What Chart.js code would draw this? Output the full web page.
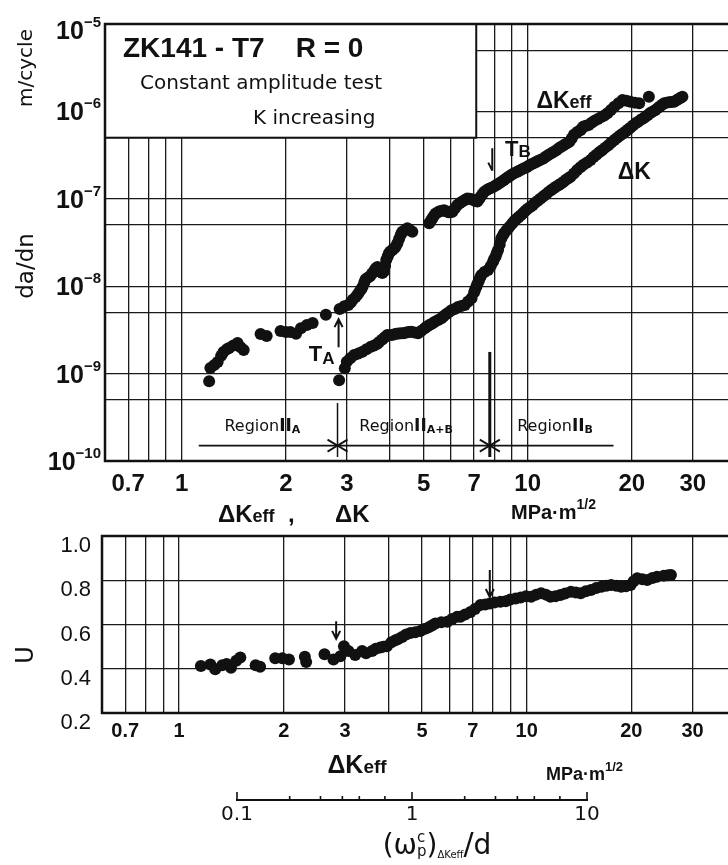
<!DOCTYPE html>
<html>
<head>
<meta charset="utf-8">
<script src="https://cdn.jsdelivr.net/npm/chart.js@4.4.1/dist/chart.umd.min.js"></script>
<style>
  html, body { margin: 0; padding: 0; background: #fff; overflow: hidden; }
  #page { position: relative; width: 728px; height: 865px; overflow: hidden; background: #fff; }
  .panel { position: absolute; left: 0; }
</style>
</head>
<body>
<div id="page">
  <div class="panel" style="top:0;width:760px;height:540px"><canvas id="chart-rate"></canvas></div>
  <div class="panel" style="top:510px;width:760px;height:270px"><canvas id="chart-u"></canvas></div>
  <div class="panel" style="top:775px;width:728px;height:90px"><canvas id="chart-wp"></canvas></div>
</div>
<script>
// da/dn against ΔKeff (upper branch); scatter, so order of readings does not matter
const keffX = [1.20, 1.21, 1.24, 1.27, 1.30, 1.32, 1.35, 1.37, 1.41, 1.45, 1.48, 1.51, 1.69, 1.76, 1.93, 2.00,
  2.06, 2.14, 2.21, 2.30, 2.39, 2.61, 2.86, 2.95, 3.03, 3.12, 3.18, 3.26, 3.33, 3.40, 3.50, 3.60, 3.68, 3.76,
  3.84, 3.90, 3.97, 4.06, 4.15, 4.25, 4.34, 4.49, 4.64, 5.19, 5.30, 5.42, 5.57, 5.73, 5.90, 6.06, 6.26, 6.47,
  6.69, 6.92, 7.15, 7.30, 7.48, 7.73, 7.99, 8.25, 8.54, 8.83, 9.13, 9.45, 9.76, 10.1, 10.4, 10.7, 11.1, 11.5,
  11.9, 12.3, 12.7, 13.2, 13.6, 14.2, 14.5, 15.0, 15.6, 16.3, 17.0, 17.8, 18.8, 19.8, 21.0, 22.4,
  3.08, 3.22, 3.30, 3.37, 3.45, 3.55, 3.64, 3.72, 3.80, 3.87, 3.94, 4.01, 4.11, 4.20, 4.30, 4.42, 4.56,
  5.25, 5.36, 5.50, 5.65, 5.81, 5.98, 6.16, 6.36, 6.58, 6.80, 7.03, 7.22, 7.39, 7.60, 7.86, 8.12, 8.40, 8.68,
  8.98, 9.30, 9.60, 9.93, 10.25, 10.55, 10.9, 11.3, 11.7, 12.1, 12.5, 12.95, 13.4, 13.9, 14.35, 14.75, 15.3,
  15.95, 16.65, 17.4, 18.3, 19.3, 20.4]
const keffRate = [8.2e-10, 1.16e-9, 1.25e-9, 1.36e-9, 1.6e-9, 1.77e-9, 1.9e-9, 1.96e-9, 2.1e-9, 2.24e-9, 2.0e-9,
  1.86e-9, 2.84e-9, 2.7e-9, 3.07e-9, 3.0e-9, 3.0e-9, 2.85e-9, 3.3e-9, 3.6e-9, 3.8e-9, 4.7e-9, 5.5e-9, 5.9e-9,
  6.1e-9, 7.0e-9, 7.5e-9, 8.6e-9, 9.8e-9, 1.2e-8, 1.3e-8, 1.5e-8, 1.66e-8, 1.45e-8, 1.47e-8, 2.0e-8, 2.38e-8,
  2.6e-8, 2.83e-8, 3.5e-8, 4.2e-8, 4.6e-8, 4.2e-8, 5.25e-8, 6.0e-8, 6.8e-8, 7.2e-8, 7.4e-8, 7.0e-8, 7.1e-8,
  8.5e-8, 9.3e-8, 1.01e-7, 9.8e-8, 9.3e-8, 1.05e-7, 1.2e-7, 1.3e-7, 1.38e-7, 1.5e-7, 1.64e-7, 1.8e-7, 1.96e-7,
  2.1e-7, 2.23e-7, 2.4e-7, 2.55e-7, 2.7e-7, 2.9e-7, 3.2e-7, 3.46e-7, 3.8e-7, 4.1e-7, 4.5e-7, 5.4e-7, 6.1e-7,
  6.7e-7, 7.0e-7, 7.8e-7, 8.6e-7, 9.5e-7, 1.13e-6, 1.35e-6, 1.29e-6, 1.24e-6, 1.47e-6,
  6.5e-9, 8.0e-9, 9.2e-9, 1.1e-8, 1.25e-8, 1.4e-8, 1.6e-8, 1.55e-8, 1.42e-8, 1.7e-8, 2.2e-8, 2.5e-8, 2.7e-8,
  3.1e-8, 3.9e-8, 4.4e-8, 4.4e-8,
  5.6e-8, 6.4e-8, 7.0e-8, 7.3e-8, 7.2e-8, 7.0e-8, 7.8e-8, 8.9e-8, 9.7e-8, 1.0e-7, 9.5e-8, 9.8e-8, 1.12e-7,
  1.25e-7, 1.34e-7, 1.44e-7, 1.57e-7, 1.72e-7, 1.88e-7, 2.03e-7, 2.16e-7, 2.3e-7, 2.48e-7, 2.62e-7, 2.8e-7,
  3.05e-7, 3.33e-7, 3.6e-7, 3.95e-7, 4.3e-7, 4.9e-7, 5.8e-7, 6.4e-7, 6.85e-7, 7.4e-7, 8.2e-7, 9.0e-7, 1.04e-6,
  1.24e-6, 1.32e-6, 1.26e-6]

// da/dn against ΔK
const dkX = [2.85, 2.96, 3.00, 3.07, 3.15, 3.24, 3.33, 3.42, 3.52, 3.60, 3.68, 3.80, 3.93, 4.04, 4.17, 4.31,
  4.46, 4.61, 4.82, 5.04, 5.20, 5.39, 5.63, 5.82, 6.02, 6.29, 6.58, 6.88, 7.00, 7.11, 7.22, 7.35, 7.68, 7.94,
  8.08, 8.21, 8.38, 8.54, 8.78, 9.03, 9.30, 9.55, 9.85, 10.2, 10.5, 10.9, 11.3, 11.7, 12.1, 12.5, 12.9, 13.3,
  13.9, 14.5, 15.2, 15.8, 16.4, 17.1, 17.8, 18.5, 19.2, 19.8, 20.5, 21.2, 21.9, 22.6, 23.4, 24.1, 24.8, 25.6,
  26.5, 27.2, 28.0,
  3.72, 3.86, 4.10, 4.24, 4.38, 4.53, 4.71, 4.93, 5.12, 5.30, 5.51, 5.72, 5.92, 6.15, 6.43, 6.73, 7.05, 7.16,
  7.28, 7.50, 7.82, 8.00, 8.14, 8.30, 8.46, 8.66, 8.90, 9.16, 9.42, 9.70, 10.0, 10.35, 10.7, 11.1, 11.5, 11.9,
  12.3, 12.7, 13.1, 13.6, 14.2, 14.85, 15.5, 16.1, 16.75, 17.45, 18.15, 18.85, 19.5, 20.15, 20.85, 21.55,
  22.25, 23.0, 23.75, 24.45, 25.2, 26.0, 26.85, 27.6]
const dkRate = [8.4e-10, 1.15e-9, 1.37e-9, 1.5e-9, 1.63e-9, 1.7e-9, 1.78e-9, 1.9e-9, 2.03e-9, 2.1e-9, 2.2e-9,
  2.45e-9, 2.77e-9, 2.77e-9, 2.85e-9, 2.89e-9, 2.95e-9, 3.02e-9, 2.89e-9, 3.3e-9, 3.6e-9, 3.93e-9, 4.3e-9,
  4.8e-9, 5.3e-9, 5.8e-9, 6.1e-9, 7.3e-9, 8.5e-9, 9.9e-9, 1.15e-8, 1.34e-8, 1.53e-8, 1.9e-8, 2.2e-8, 2.6e-8,
  3.5e-8, 4.0e-8, 4.6e-8, 5.25e-8, 5.9e-8, 6.5e-8, 7.3e-8, 8.1e-8, 9.0e-8, 1.01e-7, 1.13e-7, 1.26e-7, 1.38e-7,
  1.5e-7, 1.65e-7, 1.79e-7, 2.14e-7, 2.45e-7, 2.78e-7, 3.2e-7, 3.6e-7, 4.1e-7, 4.7e-7, 5.3e-7, 5.9e-7, 6.5e-7,
  7.3e-7, 8.0e-7, 8.7e-7, 9.6e-7, 1.04e-6, 1.14e-6, 1.24e-6, 1.27e-6, 1.29e-6, 1.38e-6, 1.47e-6,
  2.3e-9, 2.6e-9, 2.8e-9, 2.88e-9, 2.9e-9, 3.0e-9, 2.95e-9, 3.1e-9, 3.45e-9, 3.75e-9, 4.1e-9, 4.55e-9, 5.05e-9,
  5.5e-9, 5.95e-9, 6.7e-9, 9.2e-9, 1.07e-8, 1.25e-8, 1.45e-8, 1.7e-8, 2.05e-8, 2.4e-8, 3.0e-8, 3.75e-8, 4.3e-8,
  4.9e-8, 5.6e-8, 6.2e-8, 6.9e-8, 7.7e-8, 8.5e-8, 9.5e-8, 1.07e-7, 1.2e-7, 1.32e-7, 1.44e-7, 1.57e-7, 1.72e-7,
  1.95e-7, 2.3e-7, 2.6e-7, 3.0e-7, 3.4e-7, 3.85e-7, 4.4e-7, 5.0e-7, 5.6e-7, 6.2e-7, 6.9e-7, 7.6e-7, 8.3e-7,
  9.1e-7, 1.0e-6, 1.09e-6, 1.19e-6, 1.26e-6, 1.28e-6, 1.33e-6, 1.42e-6]

// closure ratio U against ΔKeff
const uX = [1.155, 1.23, 1.27, 1.33, 1.37, 1.41, 1.46, 1.50, 1.66, 1.71, 1.89, 1.98, 2.07, 2.30, 2.32, 2.62,
  2.78, 2.91, 2.98, 3.07, 3.21, 3.36, 3.59, 3.79, 3.96, 4.19, 4.38, 4.63, 4.94, 5.22, 5.46, 5.91, 6.31, 6.45,
  6.89, 7.36, 7.84, 8.4, 8.97, 9.61, 10.3, 11.0, 11.7, 12.5, 13.4, 14.3, 15.3, 16.4, 17.5, 18.7, 19.9, 20.8,
  22.2, 23.7, 26.0,
  3.45, 3.68, 3.87, 4.08, 4.28, 4.50, 4.78, 5.08, 5.34, 5.68, 6.10, 6.65, 7.10, 7.60, 8.10, 8.70, 9.30, 9.95,
  10.65, 11.35, 12.1, 12.9, 13.85, 14.8, 15.85, 16.95, 18.1, 19.3, 20.3, 21.5, 23.0, 24.8, 25.5]
const uVal = [0.412, 0.419, 0.398, 0.416, 0.421, 0.404, 0.436, 0.451, 0.416, 0.409, 0.447, 0.447, 0.442, 0.454,
  0.431, 0.466, 0.442, 0.457, 0.502, 0.480, 0.462, 0.480, 0.480, 0.496, 0.502, 0.529, 0.544, 0.562, 0.571,
  0.587, 0.605, 0.612, 0.635, 0.635, 0.657, 0.688, 0.695, 0.703, 0.713, 0.722, 0.725, 0.741, 0.725, 0.733,
  0.748, 0.741, 0.756, 0.771, 0.778, 0.771, 0.778, 0.809, 0.801, 0.816, 0.824,
  0.470, 0.490, 0.500, 0.520, 0.535, 0.555, 0.565, 0.580, 0.595, 0.610, 0.625, 0.645, 0.670, 0.690, 0.700,
  0.705, 0.718, 0.728, 0.735, 0.735, 0.728, 0.740, 0.745, 0.750, 0.765, 0.775, 0.775, 0.773, 0.795, 0.805,
  0.810, 0.820, 0.823]

// axes
const kTicks = [0.7, 0.8, 0.9, 1, 2, 3, 4, 5, 6, 7, 8, 9, 10, 20, 30]
const kLabels = [0.7, 1, 2, 3, 5, 7, 10, 20, 30]
const rateTicks = [1e-10, 5e-10, 1e-9, 5e-9, 1e-8, 5e-8, 1e-7, 5e-7, 1e-6, 5e-6, 1e-5]
const rateLabels = [1e-10, 1e-9, 1e-8, 1e-7, 1e-6, 1e-5]
const uTicks = [0.2, 0.4, 0.6, 0.8, 1.0]
const wpTicks = [0.1, 0.2, 0.3, 0.4, 0.5, 0.7, 1, 2, 3, 4, 5, 7, 10]
const wpLabels = [0.1, 1, 10]

// transition points T_A, T_B (ΔK) and the region bar
const regionBounds = [2.82, 7.77]
const regionSpan = [1.12, 17.7]

const FF = '"Liberation Sans", Arial, sans-serif'
const FD = '"DejaVu Sans", sans-serif'
const INK = '#111'

// draws a run of text pieces (sub/superscripts) on one baseline
function txt(ctx, x, y, parts, align = 'left') {
  const f = p => `${p.b ? 'bold ' : ''}${p.s}px ${p.f || FF}`
  let w = 0
  for (const p of parts) { ctx.font = f(p); if (!p.stay) w += ctx.measureText(p.t).width }
  let cx = align === 'center' ? x - w / 2 : align === 'right' ? x - w : x
  ctx.textAlign = 'left'; ctx.textBaseline = 'alphabetic'; ctx.fillStyle = INK
  for (const p of parts) {
    ctx.font = f(p)
    ctx.fillText(p.t, cx, y + (p.dy || 0))
    if (!p.stay) cx += ctx.measureText(p.t).width
  }
}

function vtxt(ctx, x, y, text, size) {
  ctx.save()
  ctx.translate(x, y); ctx.rotate(-Math.PI / 2)
  ctx.font = `${size}px ${FD}`; ctx.fillStyle = INK
  ctx.textAlign = 'center'; ctx.textBaseline = 'middle'
  ctx.fillText(text, 0, 0)
  ctx.restore()
}

function arrow(ctx, x, y0, y1, half) {
  const d = y1 > y0 ? -1 : 1
  ctx.beginPath()
  ctx.moveTo(x, y0); ctx.lineTo(x, y1)
  ctx.moveTo(x - 4, y1 + d * 8); ctx.lineTo(x, y1)
  if (!half) ctx.lineTo(x + 4, y1 + d * 8)
  ctx.stroke()
}

const grid = { color: '#1a1a1a', lineWidth: 1.3, drawTicks: false }
const pts = (xs, ys) => xs.map((x, i) => ({ x, y: ys[i] }))
const dots = { backgroundColor: INK, borderColor: INK, pointRadius: 6, pointBorderWidth: 0, showLine: false }
const region = sub => [{ t: 'Region', s: 16, f: FD }, { t: 'II', s: 17, b: 1, f: FD }, { t: sub, s: 11, b: 1, f: FD, dy: 2 }]

const rateDecor = {
  id: 'rateDecor',
  beforeDatasetsDraw(chart) {
    const { ctx, chartArea: a, scales: { x, y } } = chart
    ctx.save()
    // caption box sits over the grid
    const bx = x.getPixelForValue(7.1), by = y.getPixelForValue(5e-7)
    ctx.fillStyle = '#fff'; ctx.fillRect(a.left, a.top, bx - a.left, by - a.top)
    ctx.strokeStyle = INK; ctx.lineWidth = 2
    ctx.strokeRect(a.left, a.top, bx - a.left, by - a.top)

    // region bar with the T_A / T_B boundaries
    const ry = y.getPixelForValue(1.5e-10)
    ctx.lineWidth = 1.8
    ctx.beginPath()
    ctx.moveTo(x.getPixelForValue(regionSpan[0]), ry); ctx.lineTo(x.getPixelForValue(regionSpan[1]), ry)
    ctx.stroke()
    regionBounds.forEach((b, i) => {
      const px = x.getPixelForValue(b)
      ctx.lineWidth = i ? 3 : 1.5
      ctx.beginPath()
      ctx.moveTo(px, y.getPixelForValue(i ? 1.77e-9 : 4.6e-10)); ctx.lineTo(px, a.bottom - 4)
      ctx.stroke()
      ctx.lineWidth = 1.8
      ctx.beginPath()
      ctx.moveTo(px - 10, ry - 6); ctx.lineTo(px, ry); ctx.lineTo(px - 10, ry + 6)
      ctx.moveTo(px + 10, ry - 6); ctx.lineTo(px, ry); ctx.lineTo(px + 10, ry + 6)
      ctx.stroke()
    })
    ctx.restore()
  },
  afterDraw(chart) {
    const { ctx, chartArea: a, scales: { x, y } } = chart
    ctx.save()
    ctx.strokeStyle = INK; ctx.lineWidth = 2.5
    ctx.strokeRect(a.left, a.top, a.right - a.left, a.bottom - a.top)

    for (const v of rateLabels) {
      const py = Math.max(y.getPixelForValue(v), a.top + 6)
      txt(ctx, a.left - 4, py + 9, [{ t: '10', s: 25, b: 1 }, { t: '−' + Math.round(-Math.log10(v)), s: 15, b: 1, dy: -12 }], 'right')
    }

    // caption
    txt(ctx, a.left + 18, 57, [{ t: 'ZK141 - T7    R = 0', s: 28, b: 1 }])
    txt(ctx, a.left + 35, 89, [{ t: 'Constant amplitude test', s: 20, f: FD }])
    txt(ctx, a.left + 148, 124, [{ t: 'K increasing', s: 20, f: FD }])

    // curve labels and transition markers
    txt(ctx, x.getPixelForValue(10.6), y.getPixelForValue(1.1e-6), [{ t: 'ΔK', s: 23, b: 1 }, { t: 'eff', s: 18, b: 1 }])
    txt(ctx, x.getPixelForValue(18.2), y.getPixelForValue(1.7e-7), [{ t: 'ΔK', s: 23, b: 1 }])
    txt(ctx, x.getPixelForValue(8.6), y.getPixelForValue(3.1e-7), [{ t: 'T', s: 22, b: 1 }, { t: 'B', s: 17, b: 1, dy: 1 }])
    txt(ctx, x.getPixelForValue(2.33), y.getPixelForValue(1.4e-9), [{ t: 'T', s: 22, b: 1 }, { t: 'A', s: 17, b: 1, dy: 3 }])
    ctx.lineWidth = 2
    arrow(ctx, x.getPixelForValue(7.9), y.getPixelForValue(3.8e-7), y.getPixelForValue(2.1e-7), true)
    arrow(ctx, x.getPixelForValue(2.84), y.getPixelForValue(2.0e-9), y.getPixelForValue(4.2e-9))

    // region names
    const ly = y.getPixelForValue(2.2e-10)
    txt(ctx, x.getPixelForValue(1.71), ly, region('A'), 'center')
    txt(ctx, x.getPixelForValue(4.45), ly, region('A+B'), 'center')
    txt(ctx, x.getPixelForValue(12.0), ly, region('B'), 'center')

    // axis titles
    vtxt(ctx, 27, 68, 'm/cycle', 20)
    vtxt(ctx, 27, 266, 'da/dn', 23)
    txt(ctx, 218, 522, [{ t: 'ΔK', s: 24, b: 1 }, { t: 'eff', s: 18, b: 1 }, { t: '  ,', s: 24, b: 1 }])
    txt(ctx, 335, 522, [{ t: 'ΔK', s: 24, b: 1 }])
    txt(ctx, 511, 519, [{ t: 'MPa·m', s: 20, b: 1 }, { t: '1/2', s: 14, b: 1, dy: -10 }])
    ctx.restore()
  }
}

new Chart(document.getElementById('chart-rate'), {
  type: 'scatter',
  data: { datasets: [
    { ...dots, label: 'ΔKeff', data: pts(keffX, keffRate) },
    { ...dots, label: 'ΔK', data: pts(dkX, dkRate) },
  ] },
  options: {
    responsive: true, maintainAspectRatio: false, animation: false,
    layout: { padding: { top: 24, right: 24, left: 0, bottom: 0 } },
    plugins: { legend: { display: false }, tooltip: { enabled: false } },
    scales: {
      x: {
        type: 'logarithmic', min: 0.6, max: 40,
        afterBuildTicks: s => { s.ticks = kTicks.map(value => ({ value })) },
        afterFit: s => { s.height = 79 },
        grid, border: { display: false },
        ticks: { autoSkip: false, maxRotation: 0, padding: 9, color: INK,
          font: { family: FF, size: 24, weight: 'bold' },
          callback: v => kLabels.includes(v) ? String(v) : '' },
      },
      y: {
        type: 'logarithmic', min: 1e-10, max: 1e-5,
        afterBuildTicks: s => { s.ticks = rateTicks.map(value => ({ value })) },
        afterFit: s => { s.width = 105 },
        grid, border: { display: false },
        ticks: { display: false },
      },
    },
  },
  plugins: [rateDecor],
})

const uDecor = {
  id: 'uDecor',
  afterDraw(chart) {
    const { ctx, chartArea: a, scales: { x, y } } = chart
    ctx.save()
    ctx.strokeStyle = INK; ctx.lineWidth = 2.5
    ctx.strokeRect(a.left, a.top, a.right - a.left, a.bottom - a.top)
    for (const v of uTicks) {
      txt(ctx, a.left - 11, y.getPixelForValue(v) + 16, [{ t: v.toFixed(1), s: 22 }], 'right')
    }
    ctx.lineWidth = 2
    arrow(ctx, x.getPixelForValue(2.83), y.getPixelForValue(0.615), y.getPixelForValue(0.535))
    arrow(ctx, x.getPixelForValue(7.83), y.getPixelForValue(0.846), y.getPixelForValue(0.724))
    vtxt(ctx, 27, 145, 'U', 24)
    txt(ctx, 357, 263, [{ t: 'ΔK', s: 25, b: 1 }, { t: 'eff', s: 19, b: 1 }], 'center')
    txt(ctx, 546, 270, [{ t: 'MPa·m', s: 18, b: 1 }, { t: '1/2', s: 13, b: 1, dy: -9 }])
    ctx.restore()
  }
}

new Chart(document.getElementById('chart-u'), {
  type: 'scatter',
  data: { datasets: [{ ...dots, label: 'U', data: pts(uX, uVal) }] },
  options: {
    responsive: true, maintainAspectRatio: false, animation: false,
    layout: { padding: { top: 26, right: 24, left: 0, bottom: 0 } },
    plugins: { legend: { display: false }, tooltip: { enabled: false } },
    scales: {
      x: {
        type: 'logarithmic', min: 0.6, max: 40,
        afterBuildTicks: s => { s.ticks = kTicks.map(value => ({ value })) },
        afterFit: s => { s.height = 67 },
        grid, border: { display: false },
        ticks: { autoSkip: false, maxRotation: 0, padding: 6, color: INK,
          font: { family: FF, size: 20, weight: 'bold' },
          callback: v => kLabels.includes(v) ? String(v) : '' },
      },
      y: {
        min: 0.2, max: 1.0,
        afterBuildTicks: s => { s.ticks = uTicks.map(value => ({ value })) },
        afterFit: s => { s.width = 102 },
        grid, border: { display: false },
        ticks: { display: false },
      },
    },
  },
  plugins: [uDecor],
})

const wpDecor = {
  id: 'wpDecor',
  afterDraw(chart) {
    const { ctx, chartArea: a, scales: { x } } = chart
    ctx.save()
    ctx.strokeStyle = INK; ctx.lineWidth = 1.6
    ctx.beginPath()
    for (const v of wpTicks) {
      const px = x.getPixelForValue(v)
      ctx.moveTo(px, a.bottom); ctx.lineTo(px, a.bottom - (wpLabels.includes(v) ? 8 : 4))
    }
    ctx.stroke()
    for (const v of wpLabels) txt(ctx, x.getPixelForValue(v), a.bottom + 20, [{ t: String(v), s: 20, f: FD }], 'center')
    txt(ctx, 437, 79, [
      { t: '(', s: 28, f: FD }, { t: 'ω', s: 28, f: FD }, { t: 'c', s: 15, f: FD, dy: -12, stay: 1 },
      { t: 'p', s: 15, f: FD, dy: 2 }, { t: ')', s: 28, f: FD }, { t: 'ΔKeff', s: 10, f: FD, dy: 4 },
      { t: '/', s: 30, f: FD }, { t: 'd', s: 28, f: FD },
    ], 'center')
    ctx.restore()
  }
}

new Chart(document.getElementById('chart-wp'), {
  type: 'scatter',
  data: { datasets: [] },
  options: {
    responsive: true, maintainAspectRatio: false, animation: false,
    layout: { padding: { top: 17, right: 141, left: 237, bottom: 0 } },
    plugins: { legend: { display: false }, tooltip: { enabled: false } },
    scales: {
      x: {
        type: 'logarithmic', min: 0.1, max: 10,
        afterBuildTicks: s => { s.ticks = wpTicks.map(value => ({ value })) },
        afterFit: s => { s.height = 65 },
        grid: { display: false },
        border: { display: true, color: INK, width: 2 },
        ticks: { display: false },
      },
      y: { display: false },
    },
  },
  plugins: [wpDecor],
})
</script>
</body>
</html>
